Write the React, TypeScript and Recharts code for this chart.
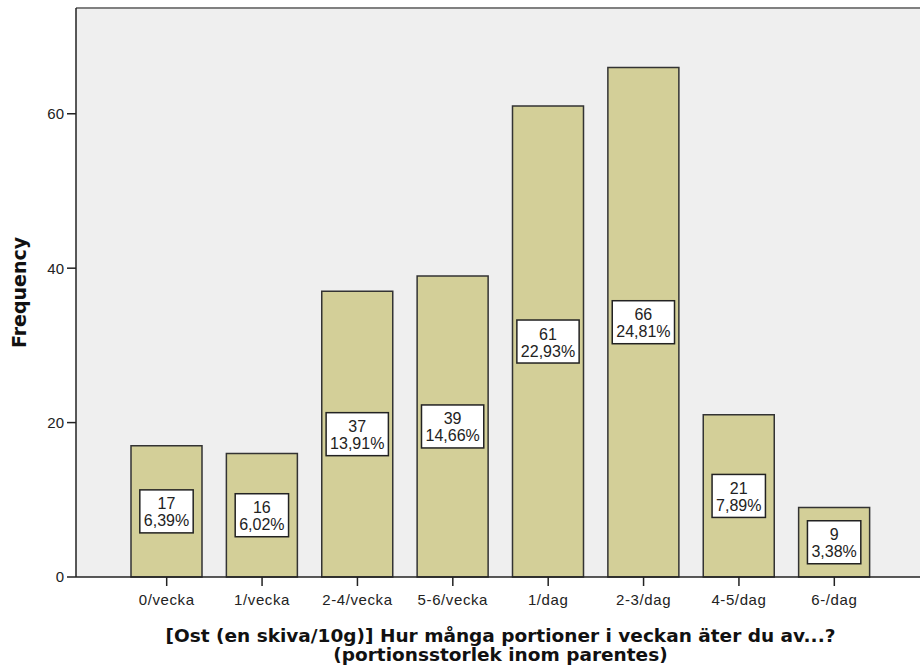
import React from "react";
import { BarChart, Bar, XAxis, YAxis, CartesianGrid, ReferenceLine } from "recharts";

const categories = ["0/vecka", "1/vecka", "2-4/vecka", "5-6/vecka", "1/dag", "2-3/dag", "4-5/dag", "6-/dag"];
const counts = [17, 16, 37, 39, 61, 66, 21, 9];
const percents = ["6,39%", "6,02%", "13,91%", "14,66%", "22,93%", "24,81%", "7,89%", "3,38%"];
const yTicks = [0, 20, 40, 60];
const yMax = 73.7;

const xTitle = ["[Ost (en skiva/10g)] Hur många portioner i veckan äter du av...?", "(portionsstorlek inom parentes)"];
const yTitle = "Frequency";

const rows = categories.map((name, i) => ({ name, count: counts[i], pct: percents[i] }));

const TICK_FONT = "'Liberation Sans', Arial, sans-serif";
const TITLE_FONT = "'DejaVu Sans', Verdana, sans-serif";

let ctx: CanvasRenderingContext2D | null = null;
function textWidth(s: string, font: string) {
  if (!ctx) ctx = document.createElement("canvas").getContext("2d");
  if (!ctx) return s.length * 9;
  ctx.font = font;
  return ctx.measureText(s).width;
}

// white box with count and percentage, centred in the bar
function BoxLabel(props: any) {
  const { x, y, width, height, index } = props;
  const cx = x + width / 2;
  const cy = y + height / 2;
  const count = String(counts[index]);
  const pct = percents[index];
  const font = `16px ${TICK_FONT}`;
  const w = Math.max(textWidth(count, font), textWidth(pct, font)) + 8;
  const h = 43;
  return (
    <g>
      <rect x={cx - w / 2} y={cy - h / 2} width={w} height={h} fill="#fff" stroke="#222" strokeWidth={1.5} />
      <text x={cx} y={cy - 2} textAnchor="middle" fontSize={16} fontFamily={TICK_FONT} fill="#222">
        {count}
      </text>
      <text x={cx} y={cy + 15} textAnchor="middle" fontSize={16} fontFamily={TICK_FONT} fill="#222">
        {pct}
      </text>
    </g>
  );
}

export default function App() {
  return (
    <div style={{ position: "fixed", left: 0, top: 0, width: 920, height: 667, overflow: "hidden", background: "#fff" }}>
      <BarChart
        width={940}
        height={667}
        data={rows}
        margin={{ top: 8, right: 15, bottom: 0, left: 0 }}
        barSize={71}
      >
        <CartesianGrid fill="#efefef" horizontal={false} vertical={false} />
        <XAxis
          dataKey="name"
          height={90}
          padding={{ left: 43, right: 43 }}
          axisLine={{ stroke: "#222", strokeWidth: 1.5 }}
          tickLine={{ stroke: "#222", strokeWidth: 1.5 }}
          tickSize={9}
          tickMargin={8}
          tick={{ fontSize: 15, fontFamily: TICK_FONT, fill: "#222", letterSpacing: 0.6 }}
          interval={0}
          label={(p: any) => {
            const vb = p.viewBox;
            const cx = vb.x + vb.width / 2;
            return (
              <g>
                {xTitle.map((line, i) => (
                  <text
                    key={i}
                    x={cx}
                    y={642 + i * 19}
                    textAnchor="middle"
                    fontSize={18.5}
                    fontWeight="bold"
                    fontFamily={TITLE_FONT}
                    fill="#111"
                  >
                    {line}
                  </text>
                ))}
              </g>
            );
          }}
        />
        <YAxis
          width={76}
          domain={[0, yMax]}
          ticks={yTicks}
          axisLine={{ stroke: "#222", strokeWidth: 1.5 }}
          tickLine={{ stroke: "#222", strokeWidth: 1.5 }}
          tickSize={9}
          tickMargin={3}
          tick={{ fontSize: 15, fontFamily: TICK_FONT, fill: "#222" }}
          label={(p: any) => {
            const vb = p.viewBox;
            const cy = vb.y + vb.height / 2;
            return (
              <text
                x={19}
                y={cy}
                transform={`rotate(-90, 19, ${cy})`}
                textAnchor="middle"
                dominantBaseline="central"
                fontSize={19}
                fontWeight="bold"
                fontFamily={TITLE_FONT}
                fill="#111"
              >
                {yTitle}
              </text>
            );
          }}
        />
        <ReferenceLine y={yMax} stroke="#808080" strokeWidth={2} />
        <Bar
          dataKey="count"
          fill="#d3cf98"
          stroke="#333"
          strokeWidth={1.5}
          isAnimationActive={false}
          label={(p: any) => <BoxLabel {...p} />}
        />
      </BarChart>
    </div>
  );
}
